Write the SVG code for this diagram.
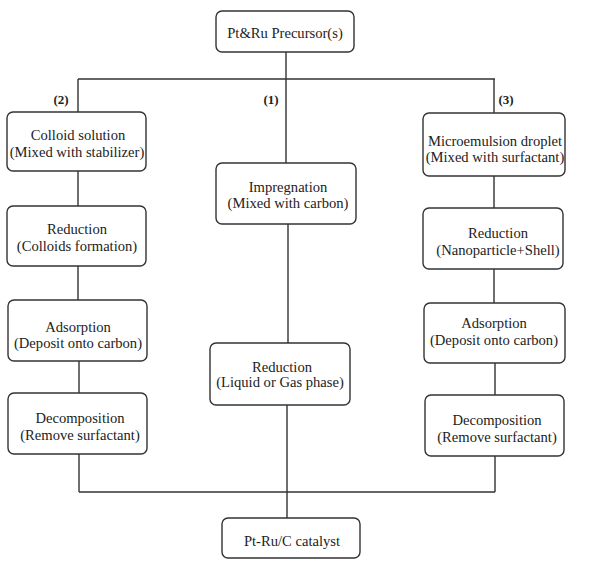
<svg xmlns="http://www.w3.org/2000/svg" width="593" height="561" viewBox="0 0 593 561">
<style>
.box{fill:#fff;stroke:#333;stroke-width:1.4}
.ln{stroke:#333;stroke-width:1.4;fill:none}
.t{font-size:14.6px;fill:#222;text-anchor:middle}
.lb{font-weight:bold;font-size:13px}
</style>
<rect width="593" height="561" fill="#fff"/>
<g id="connectors">
<path class="ln" d="M286 52V79M78 79H495M78 79V112M286 79V163M494 79V113"/>
<path class="ln" d="M78 171V206M78 266V300M79 361V393M79 454V492"/>
<path class="ln" d="M494 176V208M494 269V303M495 363V395M495 456V492"/>
<path class="ln" d="M288 224V343M287 405V518M79 492H495"/>
</g>
<g class="t" font-family="'Liberation Serif', 'Times New Roman', 'DejaVu Serif', serif">
<g id="lbl1"><text class="lb" x="271" y="104">(1)</text></g>
<g id="lbl2"><text class="lb" x="61" y="104">(2)</text></g>
<g id="lbl3"><text class="lb" x="506" y="104">(3)</text></g>
<g id="n_top"><rect class="box" x="216" y="11" width="138" height="41" rx="6"/><text x="285" y="38">Pt&amp;Ru Precursor(s)</text></g>
<g id="n_l1"><rect class="box" x="7" y="112" width="139" height="59" rx="6"/><text x="78" y="140">Colloid solution</text><text x="77" y="157">(Mixed with stabilizer)</text></g>
<g id="n_l2"><rect class="box" x="7" y="206" width="139" height="60" rx="6"/><text x="77" y="234">Reduction</text><text x="77" y="251">(Colloids formation)</text></g>
<g id="n_l3"><rect class="box" x="8" y="300" width="139" height="61" rx="6"/><text x="78" y="332">Adsorption</text><text x="78" y="348">(Deposit onto carbon)</text></g>
<g id="n_l4"><rect class="box" x="8" y="393" width="139" height="61" rx="6"/><text x="80" y="423">Decomposition</text><text x="80" y="440">(Remove surfactant)</text></g>
<g id="n_m1"><rect class="box" x="216" y="163" width="140" height="61" rx="6"/><text x="288" y="192">Impregnation</text><text x="288" y="208">(Mixed with carbon)</text></g>
<g id="n_m2"><rect class="box" x="210" y="343" width="140" height="62" rx="6"/><text x="282" y="372">Reduction</text><text x="280" y="387">(Liquid or Gas phase)</text></g>
<g id="n_r1"><rect class="box" x="423" y="113" width="142" height="63" rx="6"/><text x="495" y="146">Microemulsion droplet</text><text x="495" y="162">(Mixed with surfactant)</text></g>
<g id="n_r2"><rect class="box" x="423" y="208" width="140" height="61" rx="6"/><text x="498" y="238">Reduction</text><text x="498" y="255">(Nanoparticle+Shell)</text></g>
<g id="n_r3"><rect class="box" x="424" y="303" width="141" height="60" rx="6"/><text x="494" y="328">Adsorption</text><text x="494" y="345">(Deposit onto carbon)</text></g>
<g id="n_r4"><rect class="box" x="425" y="395" width="139" height="61" rx="6"/><text x="497" y="425">Decomposition</text><text x="497" y="442">(Remove surfactant)</text></g>
<g id="n_bot"><rect class="box" x="222" y="518" width="138" height="40" rx="6"/><text x="292" y="546">Pt-Ru/C catalyst</text></g>
</g>
</svg>
